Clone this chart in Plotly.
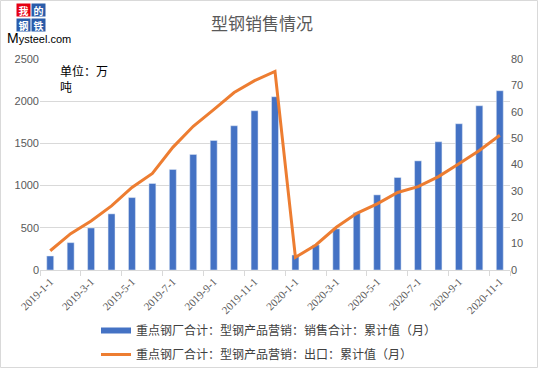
import plotly.graph_objects as go

months = ["2019-1-1","2019-2-1","2019-3-1","2019-4-1","2019-5-1","2019-6-1","2019-7-1","2019-8-1",
          "2019-9-1","2019-10-1","2019-11-1","2019-12-1","2020-1-1","2020-2-1","2020-3-1","2020-4-1",
          "2020-5-1","2020-6-1","2020-7-1","2020-8-1","2020-9-1","2020-10-1","2020-11-1"]
sales = [166, 324, 498, 665, 858, 1025, 1191, 1369, 1535, 1709, 1887, 2053,
         178, 297, 487, 680, 890, 1096, 1293, 1519, 1733, 1946, 2124]
export = [7.3, 13.8, 18.6, 24.3, 31.3, 36.6, 46.5, 54.5, 60.8, 67.3, 71.8, 75.3,
          4.8, 9.5, 16.2, 21.5, 25.1, 29.4, 31.6, 35.4, 40.3, 45.3, 51.1]
name_sales = "重点钢厂合计：型钢产品营销：销售合计：累计值（月）"
name_export = "重点钢厂合计：型钢产品营销：出口：累计值（月）"
title = "型钢销售情况"
unit = "单位：万<br>吨"

BLUE = "#4472C4"
ORANGE = "#ED7D31"
CJK = "Noto Sans CJK SC"

W, H = 539, 369
L, R, T, B = 40, 29, 59, 99
PW, PH = W - L - R, H - T - B

def px(x):
    return (x - L) / PW

def py(y):
    return (H - B - y) / PH

fig = go.Figure()
fig.add_trace(go.Bar(x=months, y=sales, marker_color=BLUE, name=name_sales,
                     showlegend=False, yaxis="y"))
fig.add_trace(go.Scatter(x=months, y=export, mode="lines", line=dict(color=ORANGE, width=3),
                         name=name_export, showlegend=False, yaxis="y2"))
# legend entries
fig.add_trace(go.Scatter(x=[None], y=[None], mode="lines", line=dict(color=BLUE, width=6),
                         name=name_sales, legendgroup="a", yaxis="y"))
fig.add_trace(go.Scatter(x=[None], y=[None], mode="lines", line=dict(color=ORANGE, width=3),
                         name=name_export, legendgroup="b", yaxis="y"))

fig.update_layout(
    width=W, height=H,
    margin=dict(l=L, r=R, t=T, b=B, autoexpand=False),
    paper_bgcolor="white", plot_bgcolor="white",
    bargap=0.66,
    showlegend=True,
    legend=dict(orientation="v", x=px(96), y=py(316), xanchor="left", yanchor="top",
                font=dict(family=CJK, size=12, color="#404040"), itemwidth=30,
                tracegroupgap=5, bgcolor="rgba(0,0,0,0)"),
    xaxis=dict(type="category", tickmode="array", tickvals=months[::2], ticktext=months[::2],
               tickangle=-45, tickson="boundaries", ticks="outside", ticklen=5,
               tickcolor="#D9D9D9", showline=True, linecolor="#D9D9D9", showgrid=False,
               tickfont=dict(family="Liberation Serif", size=11, color="#595959"),
               range=[-0.5, len(months) - 0.5]),
    yaxis=dict(range=[0, 2500], dtick=500, showgrid=True, gridcolor="#D9D9D9", zeroline=False,
               tickfont=dict(family="Liberation Sans", size=11, color="#595959"), ticks=""),
    yaxis2=dict(range=[0, 80], dtick=10, overlaying="y", side="right", showgrid=False,
                zeroline=False, tickfont=dict(family="Liberation Sans", size=11, color="#595959")),
)

ann = []
ann.append(dict(text=title, x=px(262), y=py(22), xref="paper", yref="paper", showarrow=False,
                font=dict(family=CJK, size=17, color="#595959"), xanchor="center", yanchor="middle"))
ann.append(dict(text=unit, x=px(58), y=py(60), xref="paper", yref="paper", showarrow=False,
                align="left", font=dict(family=CJK, size=12, color="#000000"),
                xanchor="left", yanchor="top"))
# logo
for ch, cx, cy, bg in [("我", 23, 10, "#E60012"), ("的", 38.5, 10, "#2A5CAA"),
                       ("钢", 23, 25, "#2A5CAA"), ("铁", 38.5, 25, "#2A5CAA")]:
    ann.append(dict(text="<b>" + ch + "</b>", x=px(cx), y=py(cy), xref="paper", yref="paper",
                    showarrow=False, font=dict(family=CJK, size=10, color="white"), bgcolor=bg,
                    borderpad=0, xanchor="center", yanchor="middle", width=13, height=12))
ann.append(dict(text="<span style='font-size:14px'>M</span>ysteel.com", x=px(5), y=py(38),
                xref="paper", yref="paper", showarrow=False, xanchor="left", yanchor="middle",
                font=dict(family="Liberation Sans", size=11, color="#000000")))
fig.update_layout(annotations=ann)

fig.add_shape(type="rect", xref="paper", yref="paper", x0=px(0.5), x1=px(537.5), y0=py(367.5), y1=py(0.5),
              line=dict(color="#D9D9D9", width=1), layer="below")

fig.write_html("out.html", config={"displayModeBar": False},
               post_script="document.body.style.margin='0';")
